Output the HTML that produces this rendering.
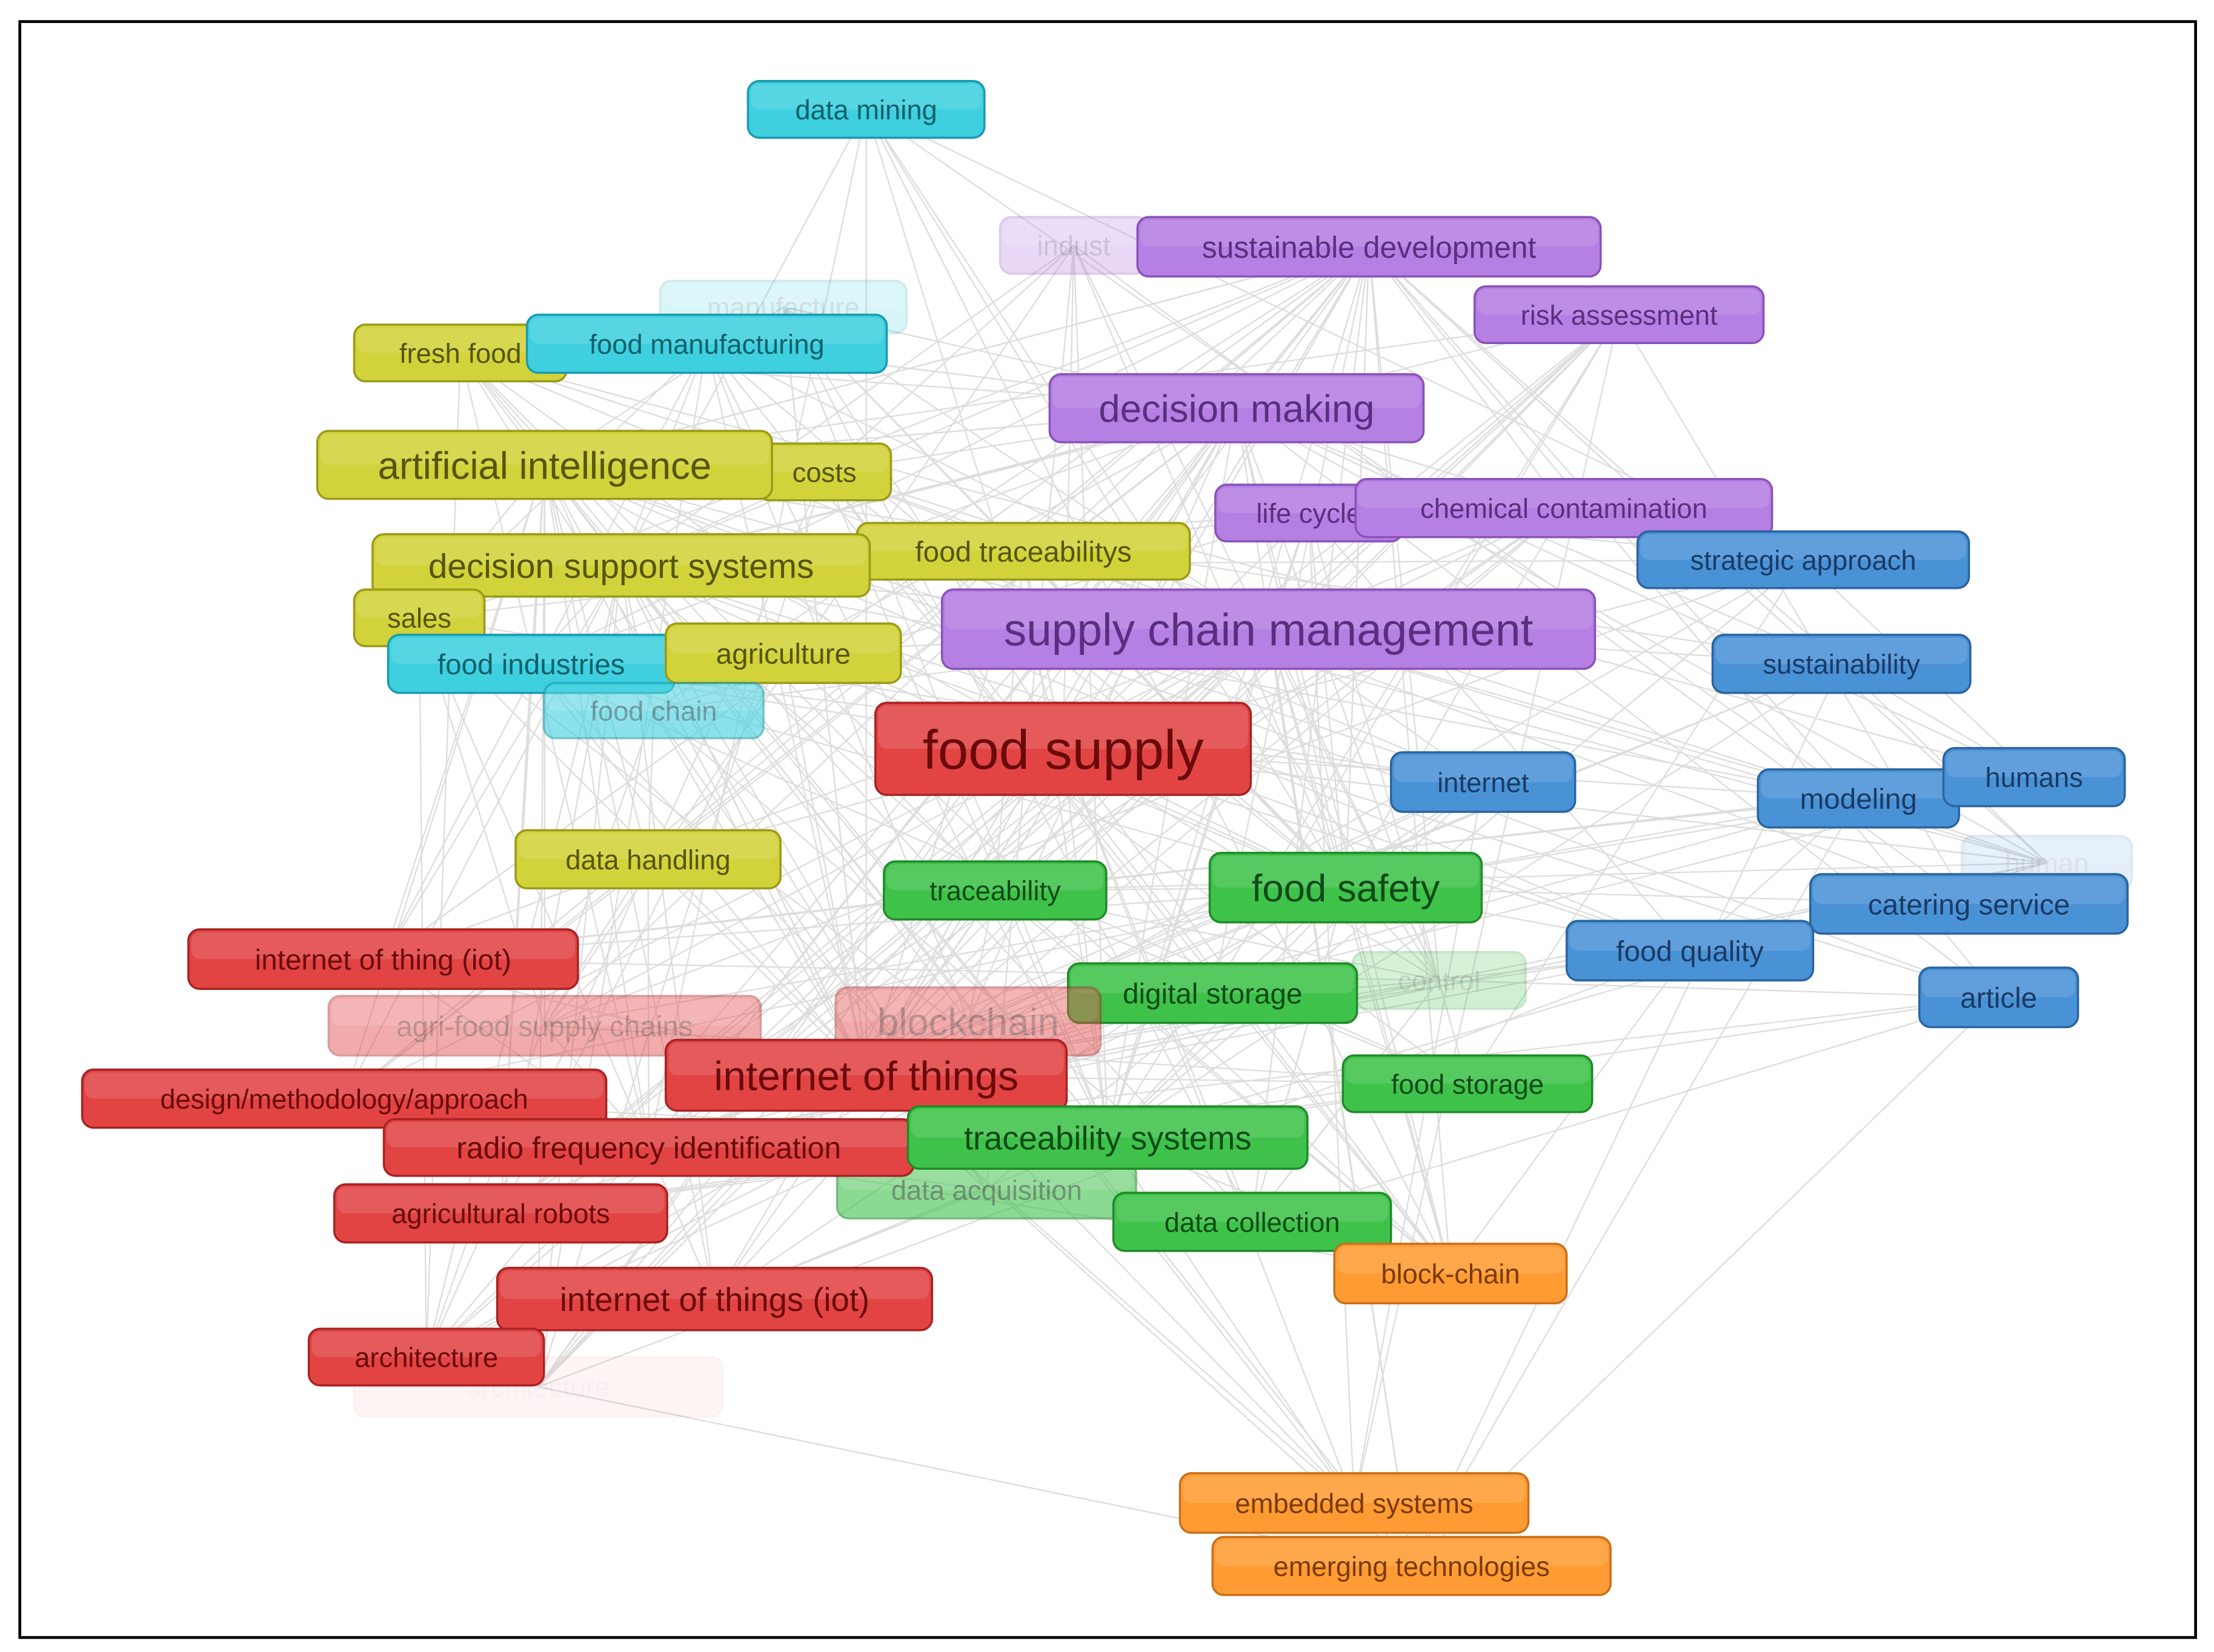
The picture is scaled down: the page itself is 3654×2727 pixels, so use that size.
<!DOCTYPE html>
<html><head><meta charset="utf-8">
<style>
html,body{margin:0;padding:0;background:#fff;}
svg{display:block;}
text{font-family:"Liberation Sans",sans-serif;}
</style></head>
<body>
<svg id="s" width="3654" height="2727" viewBox="0 0 1563 1166" xmlns="http://www.w3.org/2000/svg">
<rect x="0" y="0" width="1563" height="1166" fill="#fff"/>
<rect x="14" y="15" width="1536" height="1141" fill="none" stroke="#000" stroke-width="2"/>
<g id="edges" stroke="#d0d0d0" stroke-width="1" fill="none" opacity="0.7"></g>
<g id="nodes"></g>
</svg>
<script>
var C={
 c:["#3fd0e0","#1a9aae","#10606a"],
 p:["#b67fe3","#8a52b8","#5a2f80"],
 y:["#d2d23a","#9a9a1a","#55550a"],
 b:["#4a92d6","#2a64a0","#1a3a65"],
 r:["#e24444","#a82222","#6a0a0a"],
 g:["#3fc24a","#1f8a28","#104a18"],
 o:["#ff9b33","#c8701a","#7a3a05"]
};
var N=[
 ["data mining",528,57,695,97,"c",20,1],
 ["indust",706,153,810,193,"p",20,0.3],
 ["sustainable development",803,153,1130,195,"p",22,1],
 ["risk assessment",1041,202,1245,242,"p",20,1],
 ["manufacture",466,198,640,235,"c",20,0.2],
 ["fresh food",250,229,400,269,"y",20,1],
 ["food manufacturing",372,222,626,263,"c",20,1],
 ["decision making",741,264,1005,312,"p",28,1],
 ["costs",535,313,629,353,"y",20,1],
 ["artificial intelligence",224,304,545,352,"y",28,1],
 ["life cycle",858,342,990,382,"p",20,1],
 ["chemical contamination",957,338,1251,379,"p",20,1],
 ["strategic approach",1156,375,1390,415,"b",20,1],
 ["food traceabilitys",605,369,840,409,"y",21,1],
 ["decision support systems",263,377,614,421,"y",25,1],
 ["sales",250,416,342,456,"y",20,1],
 ["supply chain management",665,416,1126,472,"p",33,1],
 ["sustainability",1209,448,1391,489,"b",20,1],
 ["food industries",274,448,476,489,"c",21,1],
 ["agriculture",470,440,636,482,"y",21,1],
 ["food chain",384,482,539,521,"c",20,0.6],
 ["food supply",618,496,883,561,"r",40,1],
 ["internet",982,531,1112,573,"b",20,1],
 ["modeling",1241,543,1383,584,"b",21,1],
 ["humans",1372,528,1500,569,"b",20,1],
 ["data handling",364,586,551,627,"y",20,1],
 ["traceability",624,608,781,649,"g",20,1],
 ["food safety",854,602,1046,651,"g",28,1],
 ["human",1385,590,1505,628,"b",20,0.15],
 ["catering service",1278,617,1502,659,"b",21,1],
 ["internet of thing (iot)",133,656,408,698,"r",21,1],
 ["food quality",1106,650,1280,692,"b",21,1],
 ["control",955,672,1077,712,"g",20,0.25],
 ["digital storage",754,680,958,722,"g",21,1],
 ["article",1355,683,1467,725,"b",21,1],
 ["agri-food supply chains",232,703,537,745,"r",21,0.45],
 ["blockchain",590,697,777,745,"r",28,0.45],
 ["internet of things",470,734,753,784,"r",30,1],
 ["design/methodology/approach",58,755,428,796,"r",20,1],
 ["food storage",948,745,1124,785,"g",20,1],
 ["data acquisition",591,820,802,860,"g",20,0.6],
 ["radio frequency identification",271,790,645,830,"r",22,1],
 ["traceability systems",641,781,923,825,"g",24,1],
 ["agricultural robots",236,836,471,877,"r",20,1],
 ["data collection",786,842,982,883,"g",20,1],
 ["block-chain",942,878,1106,920,"o",20,1],
 ["internet of things (iot)",351,895,658,939,"r",24,1],
 ["architecture",250,958,510,1000,"r",20,0.06],
 ["architecture",218,938,384,978,"r",20,1],
 ["embedded systems",833,1040,1079,1082,"o",20,1],
 ["emerging technologies",856,1085,1137,1126,"o",20,1]
];
var ns="http://www.w3.org/2000/svg";
function el(t,a,p){var e=document.createElementNS(ns,t);for(var k in a)e.setAttribute(k,a[k]);p.appendChild(e);return e;}
var E=document.getElementById("edges"),G=document.getElementById("nodes");
var ctr=N.map(function(n){return [(n[1]+n[3])/2,(n[2]+n[4])/2];});
var seed=7;function rnd(){seed=(seed*16807)%2147483647;return seed/2147483647;}
var hubs=[21,16,37,27,7,9,14,2,42,41,26];
for(var i=0;i<N.length;i++){
 for(var h=0;h<hubs.length;h++){var j=hubs[h];if(j!==i&&rnd()<0.45)el("line",{x1:ctr[i][0],y1:ctr[i][1],x2:ctr[j][0],y2:ctr[j][1]},E);}
 for(var k=0;k<3;k++){var j=Math.floor(rnd()*N.length);if(j!==i)el("line",{x1:ctr[i][0],y1:ctr[i][1],x2:ctr[j][0],y2:ctr[j][1]},E);}
}
N.forEach(function(n){
 var c=C[n[5]],g=el("g",{opacity:n[7]},G);
 el("rect",{x:n[1],y:n[2],width:n[3]-n[1],height:n[4]-n[2],rx:8,fill:c[0],stroke:c[1],"stroke-width":1.5},g);
 el("rect",{x:n[1]+2,y:n[2]+2,width:n[3]-n[1]-4,height:(n[4]-n[2])/2-2,rx:6,fill:"#fff",opacity:0.12},g);
 var t=el("text",{x:(n[1]+n[3])/2,y:(n[2]+n[4])/2+n[6]*0.35,"text-anchor":"middle","font-size":n[6]*0.97,fill:c[2]},g);
 t.textContent=n[0];
});
</script>
</body></html>
